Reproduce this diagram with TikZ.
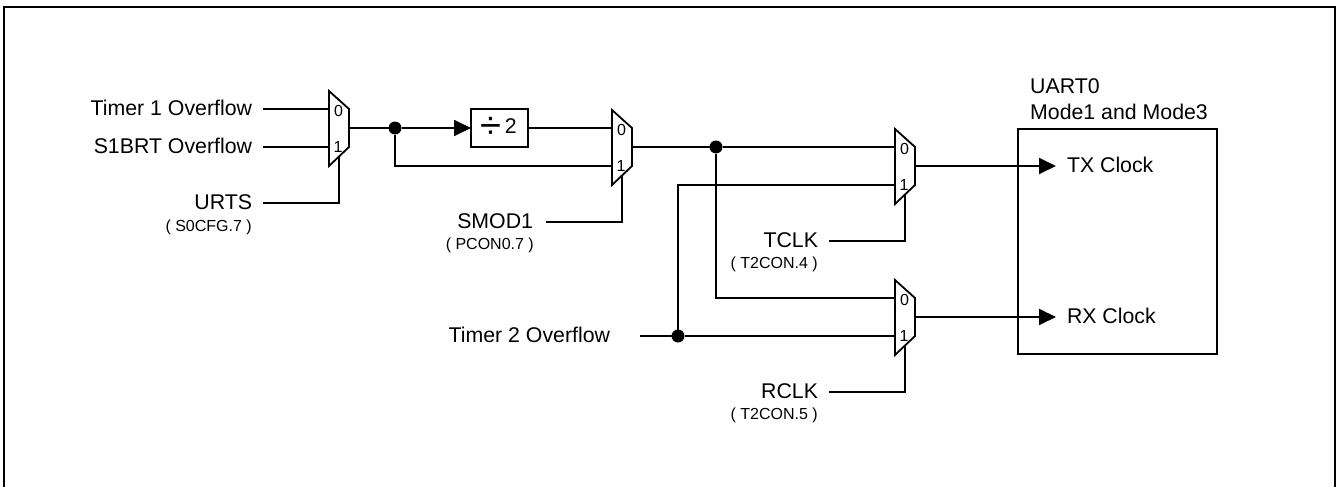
\documentclass[tikz,border=0pt]{standalone}
\usepackage{fontspec}
\setmainfont{Liberation Sans}
\usetikzlibrary{arrows.meta}
\newcommand{\fsz}[1]{\fontsize{#1}{#1}\selectfont}
\tikzset{
  wire/.style={line width=1.8pt,line join=miter},
  framewire/.style={line width=2pt,line join=miter},
  arrowwire/.style={wire,-{Triangle[length=17pt,width=16pt]}},
  lab/.style={font=\fsz{21.3},text height=13pt,text depth=0pt,inner ysep=0pt,outer sep=0pt,anchor=east},
  sublab/.style={font=\fsz{16},inner sep=0pt,anchor=base east},
  toplab/.style={font=\fsz{21.3},inner sep=0pt,anchor=base west},
  digit/.style={font=\fsz{16},inner sep=0pt},
  junction/.style={circle,fill=black,inner sep=0pt,minimum size=13pt,outer sep=0pt},
  boxed/.style={draw,line width=1.8pt,rectangle,inner sep=0pt,outer sep=0pt,anchor=north west},
  muxbody/.style={draw,line width=1.8pt,line join=miter,fill=none},
}
% \muxat{name}{left x}{top y}: two-input selector, with its ports as named coordinates
\newcommand{\muxat}[3]{%
  \draw[muxbody] (#2,#3) -- ++(20,18) -- ++(0,38) -- ++(-20,19) -- cycle;
  \coordinate (#1-a) at (#2,#3+18);
  \coordinate (#1-b) at (#2,#3+56);
  \coordinate (#1-o) at (#2+20,#3+37);
  \coordinate (#1-s) at (#2+10,#3+65);
  \node[digit] (#1-d0) at (#2+9.5,#3+20) {0};
  \node[digit] (#1-d1) at (#2+9,#3+56) {1};
}
\begin{document}
\begin{tikzpicture}[x=1pt,y=-1pt]
\useasboundingbox (0,0) rectangle (1342,487);
% outer frame, open at the bottom of the picture
\draw[framewire] (4,487) -- (4,7.5) -- (1335,7.5) -- (1335,487);

% selectors
\muxat{ma}{329}{91}
\muxat{mb}{612}{110}
\muxat{mc}{895}{129}
\muxat{md}{895}{280}

% UART block
\node[boxed,minimum width=199pt,minimum height=225pt] (uart) at (1018,129) {};
\node[toplab] (uartname) at (1030,94) {UART0};
\node[toplab] (uartmode) at (1030,119) {Mode1 and Mode3};
\node[lab,anchor=west,inner xsep=11pt] (tx) at (1056,166) {TX Clock};
\node[lab,anchor=west,inner xsep=11pt] (rx) at (1056,317) {RX Clock};

% divider
\node[boxed,minimum width=57pt,minimum height=38pt,font=\fsz{21.3}] (div) at (471,109)
  {\hspace*{-2pt}\raisebox{-5.5pt}{\fsz{38}÷}\,2};

% input labels
\node[lab,inner xsep=11pt] (t1) at (263,109) {Timer 1 Overflow};
\node[lab,inner xsep=11pt] (s1) at (263,147) {S1BRT Overflow};
\node[lab,inner xsep=11pt] (urts) at (263,203) {URTS};
\node[sublab] (urtsreg) at (252,231.5) {( S0CFG.7 )};
\node[lab,inner xsep=13pt] (smod) at (546,222) {SMOD1};
\node[sublab] (smodreg) at (534,249.5) {( PCON0.7 )};
\node[lab,inner xsep=11pt] (tclk) at (829,241) {TCLK};
\node[sublab] (tclkreg) at (818,268.5) {( T2CON.4 )};
\node[lab,inner xsep=11pt] (rclk) at (829,392) {RCLK};
\node[sublab] (rclkreg) at (818,419.5) {( T2CON.5 )};
\node[lab,inner xsep=30pt] (t2) at (640,336) {Timer 2 Overflow};

% junctions
\node[junction] (ja) at (395,128) {};
\node[junction] (jb) at (716,147) {};
\node[junction] (jc) at (678,336) {};

% connectors
\draw[wire] (t1.east) -- (ma-a);
\draw[wire] (s1.east) -- (ma-b);
\draw[wire] (urts.east) -| (ma-s);
\draw[wire] (ma-o) -- (ja);
\draw[arrowwire] (ja) -- (div.west);
\draw[wire] (ja) |- (mb-b);
\draw[wire] (div.east) -- (mb-a);
\draw[wire] (smod.east) -| (mb-s);
\draw[wire] (mb-o) -- (jb);
\draw[wire] (jb) -- (mc-a);
\draw[wire] (jb) |- (md-a);
\draw[wire] (t2.east) -- (jc);
\draw[wire] (jc) -- (md-b);
\draw[wire] (jc) |- (mc-b);
\draw[wire] (tclk.east) -| (mc-s);
\draw[wire] (rclk.east) -| (md-s);
\draw[arrowwire] (mc-o) -- (tx.west);
\draw[arrowwire] (md-o) -- (rx.west);
\end{tikzpicture}
\end{document}
